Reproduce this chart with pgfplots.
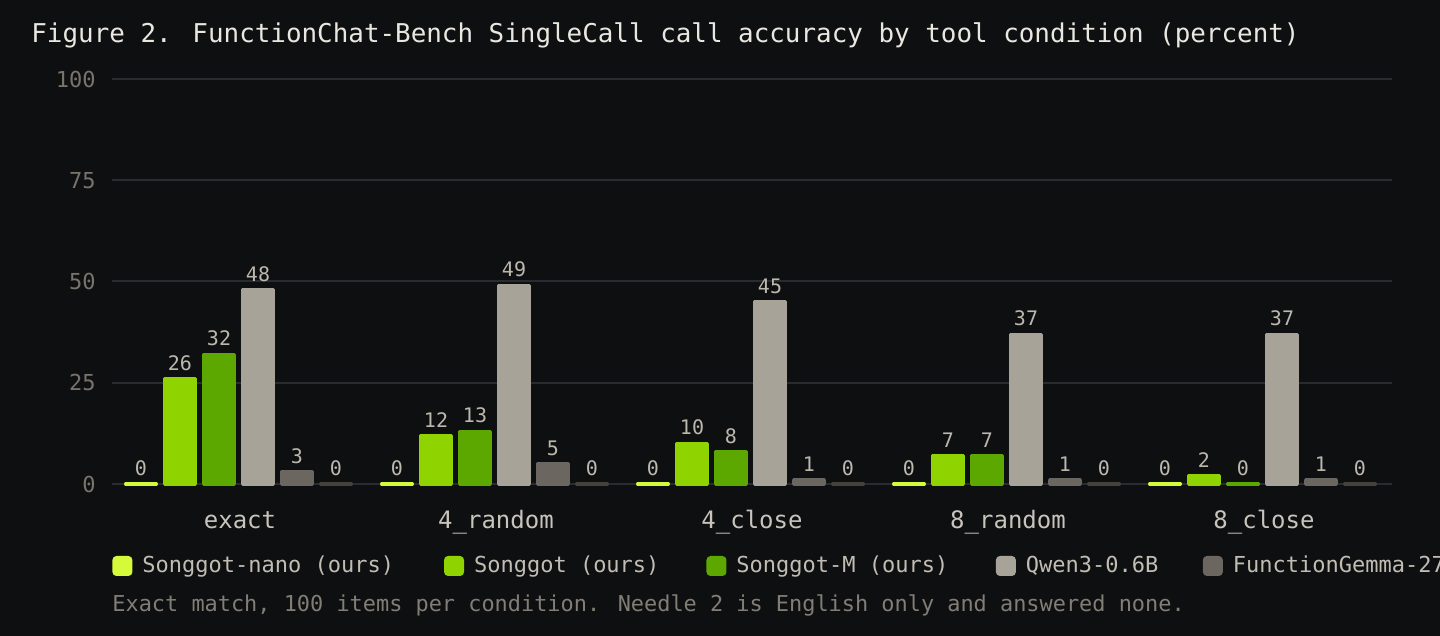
\documentclass[border=0pt]{standalone}
\usepackage{pgfplots}
\pgfplotsset{compat=1.18}
\usepackage{fontspec}
\setmainfont{DejaVu Sans Mono}

\definecolor{bg}{HTML}{0E0F11}
\definecolor{gridc}{HTML}{2A2B30}
\definecolor{titlec}{HTML}{EAE7E0}
\definecolor{tickc}{HTML}{78736B}
\definecolor{catc}{HTML}{C8C4BB}
\definecolor{valc}{HTML}{BDB8AE}
\definecolor{legc}{HTML}{C2BDB3}
\definecolor{footc}{HTML}{827D75}
\definecolor{cnano}{HTML}{D4FA3A}
\definecolor{csong}{HTML}{8FD400}
\definecolor{csongm}{HTML}{5CA800}
\definecolor{cqwen}{HTML}{A8A398}
\definecolor{cgemma}{HTML}{6B6660}
\definecolor{csix}{HTML}{46413B}

\pgfplotsset{
  /pgf/number format/assume math mode=true,
  sqlegend/.style={legend image code/.code={
    \fill[##1, draw=none, rounded corners=2pt] (0pt,-5pt) rectangle (10pt,5pt);}},
  barstyle/.style={fill=#1, draw=#1, line width=1.6pt, line join=round, sqlegend},
}

\begin{document}
\begin{tikzpicture}
\fill[bg] (-56pt,-76pt) rectangle (664pt,242pt);
\begin{axis}[
  scale only axis, width=640pt, height=202.5pt,
  xmin=-0.5, xmax=4.5, ymin=0, ymax=100,
  ytick={0,25,50,75,100},
  xtick={0,1,2,3,4},
  xticklabels={exact,4\_random,4\_close,8\_random,8\_close},
  axis line style={draw=none},
  major tick length=0pt,
  ymajorgrids, grid style={gridc, line width=1pt},
  ybar=4.1pt, bar width=15.4pt,
  every axis plot/.append style={xshift=-0.75pt},
  clip=false,
  yticklabel style={text=tickc, font=\fontsize{11}{13}\selectfont, inner sep=0pt, xshift=-8pt},
  xticklabel style={text=catc, font=\fontsize{12}{14}\selectfont, inner sep=0pt, anchor=base, yshift=-22.5pt},
  nodes near coords,
  every node near coord/.append style={text=valc, font=\fontsize{10}{12}\selectfont},
  legend columns=-1,
  legend style={at={(rel axis cs:0,0)}, anchor=west, yshift=-41pt,
    draw=none, fill=none, inner sep=0pt, text=legc,
    font=\fontsize{11}{13}\selectfont,
    /tikz/every odd column/.append style={column sep=3pt},
    /tikz/column 2/.style={column sep=23pt},
    /tikz/column 4/.style={column sep=21.5pt},
    /tikz/column 6/.style={column sep=21.75pt},
    /tikz/column 8/.style={column sep=20.25pt}},
]
\addplot[barstyle=cnano] coordinates {(0,0) (1,0) (2,0) (3,0) (4,0)};
\addplot[barstyle=csong] coordinates {(0,26) (1,12) (2,10) (3,7) (4,2)};
\addplot[barstyle=csongm] coordinates {(0,32) (1,13) (2,8) (3,7) (4,0)};
\addplot[barstyle=cqwen] coordinates {(0,48) (1,49) (2,45) (3,37) (4,37)};
\addplot[barstyle=cgemma] coordinates {(0,3) (1,5) (2,1) (3,1) (4,1)};
\addplot[barstyle=csix] coordinates {(0,0) (1,0) (2,0) (3,0) (4,0)};
\legend{Songgot-nano (ours),Songgot (ours),Songgot-M (ours),Qwen3-0.6B,FunctionGemma-270M}
\end{axis}
\node[anchor=west, inner sep=0pt, text=titlec, font=\fontsize{12.95}{15}\selectfont]
  at (-40.5pt,224.5pt) {Figure 2. FunctionChat-Bench SingleCall call accuracy by tool condition (percent)};
\node[anchor=west, inner sep=0pt, text=footc, font=\fontsize{10.95}{13}\selectfont]
  at (0pt,-60.5pt) {Exact match, 100 items per condition. Needle 2 is English only and answered none.};
\pgfresetboundingbox
\path[use as bounding box] (-56pt,-76pt) rectangle (664pt,242pt);
\end{tikzpicture}
\end{document}
